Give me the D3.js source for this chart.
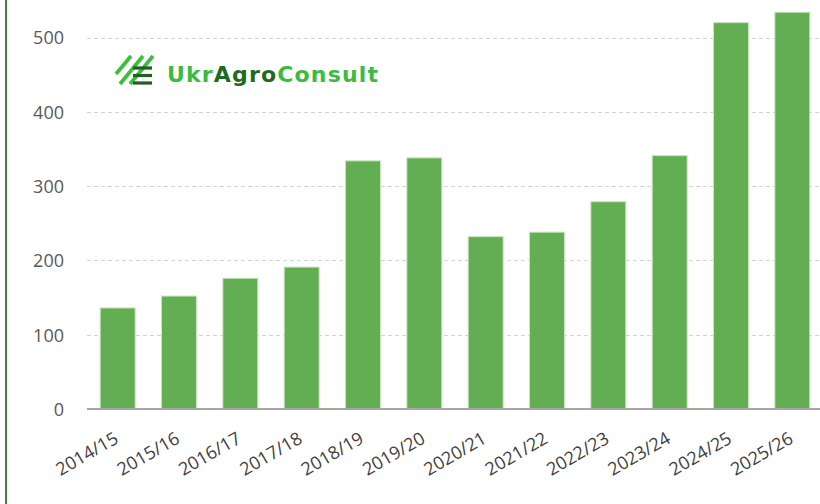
<!DOCTYPE html>
<html>
<head>
<meta charset="utf-8">
<script src="https://cdn.jsdelivr.net/npm/d3@7"></script>
<style>
html,body{margin:0;padding:0;background:#fff;}
svg{display:block;}
</style>
</head>
<body>
<svg id="chart" width="820" height="504"></svg>
<script>
const categories = ["2014/15","2015/16","2016/17","2017/18","2018/19","2019/20","2020/21","2021/22","2022/23","2023/24","2024/25","2025/26"];
const values = [136,152,176,191,334,338,232,238,279,341,520,534];
const yTicks = [0,100,200,300,400,500];

const svg = d3.select("#chart");
const W = 820, H = 504;
const font = "'Open Sans', 'Noto Sans', sans-serif";

svg.append("rect").attr("width",W).attr("height",H).attr("fill","#fff");
// left frame line
svg.append("line").attr("x1",6).attr("x2",6).attr("y1",0).attr("y2",H)
  .attr("stroke","#4b7d3c").attr("stroke-width",2);

const x = d3.scaleBand().domain(categories).range([87,823]).paddingInner(0.43).paddingOuter(0.215);
const y = d3.scaleLinear().domain([0,500]).range([409,37.5]);

// gridlines
svg.append("g").selectAll("line").data(yTicks.filter(d=>d>0)).join("line")
  .attr("x1",87).attr("x2",W).attr("y1",d=>Math.round(y(d))+0.5).attr("y2",d=>Math.round(y(d))+0.5)
  .attr("stroke","#d4d4d4").attr("stroke-width",1).attr("stroke-dasharray","4,3");

// y axis labels
const yAxis = d3.axisLeft(y).tickValues(yTicks).tickSize(0).tickPadding(0);
const gy = svg.append("g").attr("transform","translate(64,0)").call(yAxis);
gy.select(".domain").remove();
gy.selectAll("text").attr("font-family",font).attr("font-size",18).attr("fill","#595959").attr("dy","0.35em");

// bars
svg.append("g").selectAll("rect").data(values).join("rect")
  .attr("x",(d,i)=>x(categories[i]))
  .attr("width",x.bandwidth())
  .attr("y",d=>y(d))
  .attr("height",d=>y(0)-y(d))
  .attr("fill","#63ae52")
  .attr("stroke","#c8e5bf").attr("stroke-width",1);

// x axis
const xAxis = d3.axisBottom(x).tickSize(0).tickPadding(0);
const gx = svg.append("g").attr("transform",`translate(0,${y(0)})`).call(xAxis);
gx.select(".domain").remove();
svg.append("line").attr("x1",87).attr("x2",W).attr("y1",y(0)).attr("y2",y(0))
  .attr("stroke","#a6a6a6").attr("stroke-width",2);
gx.selectAll(".tick text")
  .attr("font-family",font).attr("font-size",18).attr("fill","#404040")
  .attr("text-anchor","end").attr("dy",0).attr("y",0)
  .attr("transform","translate(2,33) rotate(-30)");

// logo
const logo = svg.append("g");
[[116,74,131,56],[120,84,143,56],[130,84,153,56]].forEach(s=>{
  logo.append("line").attr("x1",s[0]).attr("y1",s[1]).attr("x2",s[2]).attr("y2",s[3])
    .attr("stroke","#3cbf3c").attr("stroke-width",3.8).attr("stroke-linecap","butt");
});
[68,75.5,83].forEach(yy=>{
  logo.append("line").attr("x1",133).attr("x2",152).attr("y1",yy).attr("y2",yy)
    .attr("stroke","#1f5f1f").attr("stroke-width",3.2);
});
const lt = svg.append("text").attr("x",167).attr("y",82)
  .attr("font-family","'DejaVu Sans', sans-serif").attr("font-weight",700).attr("font-size",22)
  .attr("textLength",211).attr("lengthAdjust","spacing");
lt.append("tspan").text("Ukr").attr("fill","#3dbb3d");
lt.append("tspan").text("Agro").attr("fill","#1e6a1e");
lt.append("tspan").text("Consult").attr("fill","#3dbb3d");
</script>
</body>
</html>
